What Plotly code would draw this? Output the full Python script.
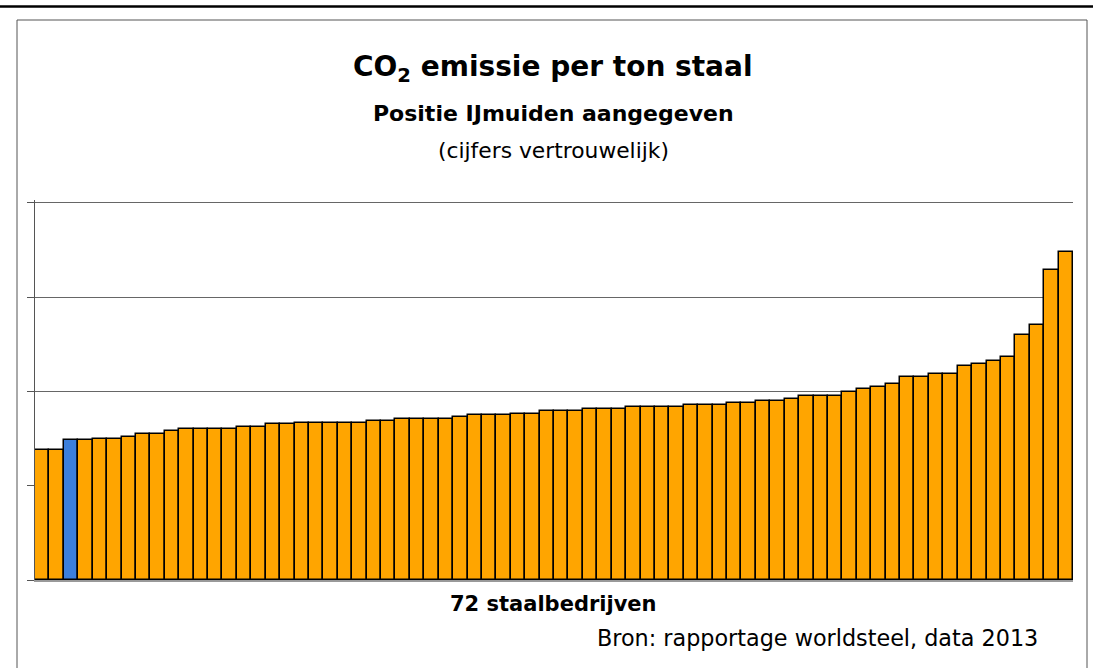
import plotly.graph_objects as go

# Data (units = gridline steps, values confidential)
companies = list(range(1, 73))
emission = [1.38, 1.38, 1.48, 1.48, 1.50, 1.50, 1.52, 1.55, 1.55, 1.58,
            1.60, 1.60, 1.60, 1.60, 1.62, 1.62, 1.65, 1.65, 1.67, 1.67,
            1.67, 1.67, 1.67, 1.69, 1.69, 1.71, 1.71, 1.71, 1.71, 1.73,
            1.75, 1.75, 1.75, 1.76, 1.76, 1.79, 1.79, 1.79, 1.81, 1.81,
            1.81, 1.83, 1.83, 1.84, 1.84, 1.86, 1.86, 1.86, 1.88, 1.88,
            1.90, 1.90, 1.92, 1.95, 1.95, 1.95, 1.99, 2.03, 2.05, 2.08,
            2.15, 2.15, 2.19, 2.19, 2.27, 2.29, 2.32, 2.36, 2.60, 2.70,
            3.29, 3.48]
ijmuiden_index = 2
gridvals = [0, 1, 2, 3, 4]

ORANGE = "#FFA500"
BLUE = "#3C7FDC"
colors = [BLUE if i == ijmuiden_index else ORANGE for i in range(len(companies))]

fig = go.Figure(go.Bar(
    x=companies, y=emission,
    marker=dict(color=colors, line=dict(color="black", width=1.5)),
    hoverinfo="skip",
))

FONT = "DejaVu Sans"
fig.update_layout(
    width=1093, height=668,
    margin=dict(l=35, r=20, t=200, b=88),
    paper_bgcolor="white", plot_bgcolor="white",
    bargap=0, showlegend=False,
    font=dict(family=FONT, color="black"),
    xaxis=dict(range=[0.5, 72.5], showticklabels=False, showgrid=False,
               zeroline=False, showline=True, linecolor="#999999", linewidth=2,
               ticks=""),
    yaxis=dict(range=[0, 4.03], tickvals=gridvals, showticklabels=False,
               showgrid=True, gridcolor="#666666", gridwidth=1,
               zeroline=False, showline=True, linecolor="#555555", linewidth=1,
               ticks="outside", ticklen=7, tickcolor="#555555"),
)

# paper coords helpers: plot area spans x 35..1073 px, y 200..580 px
def px(xp):
    return (xp - 35) / 1038.0

def py(yp):
    return (580 - yp) / 380.0

# Frame decorations
fig.add_shape(type="line", xref="paper", yref="paper",
              x0=px(-5), x1=px(1100), y0=py(6.5), y1=py(6.5),
              line=dict(color="black", width=2.5))
fig.add_shape(type="rect", xref="paper", yref="paper",
              x0=px(17), x1=px(1087), y0=py(680), y1=py(20),
              line=dict(color="#555555", width=1))

anns = [
    dict(text="<b>CO<sub>2</sub> emissie per ton staal</b>", y=68, size=28),
    dict(text="<b>Positie IJmuiden aangegeven</b>", y=113, size=22),
    dict(text="(cijfers vertrouwelijk)", y=150, size=21.8),
    dict(text="<b>72 staalbedrijven</b>", y=604, size=21),
]
for a in anns:
    fig.add_annotation(text=a["text"], x=px(553), y=py(a["y"]), xref="paper", yref="paper",
                       showarrow=False, xanchor="center", yanchor="middle",
                       font=dict(family=FONT, size=a["size"], color="black"))
fig.add_annotation(text="Bron: rapportage worldsteel, data 2013", x=px(1040), y=py(638),
                   xref="paper", yref="paper", showarrow=False,
                   xanchor="right", yanchor="middle",
                   font=dict(family=FONT, size=22.3, color="black"))

fig.write_html("out.html", config={"displayModeBar": False},
               post_script="document.body.style.margin='0';document.body.style.overflow='hidden';")
